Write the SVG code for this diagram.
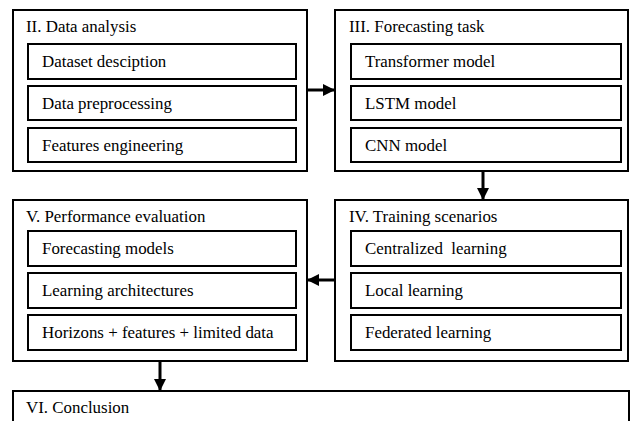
<svg xmlns="http://www.w3.org/2000/svg" width="630" height="421" viewBox="0 0 630 421">
<style>
.outer{fill:#fff;stroke:#000;stroke-width:2}
.inner{fill:#fff;stroke:#000;stroke-width:2}
text{font-family:'Times New Roman','Liberation Serif',serif;font-size:16.9px;fill:#000}
.c{stroke:#000;stroke-width:3;fill:none}
</style>
<defs>
<marker id="ah" markerWidth="4" markerHeight="4" refX="4" refY="2" orient="auto" markerUnits="strokeWidth">
<path d="M0,0 L4,2 L0,4 Z" fill="#000"/>
</marker>
</defs>
<rect width="630" height="421" fill="#fff"/>
<g id="n2">
<rect class="outer" x="13" y="10" width="294" height="161"/>
<text x="26" y="32">II. Data analysis</text>
<rect class="inner" x="28" y="44" width="268" height="35"/>
<text x="42" y="67">Dataset desciption</text>
<rect class="inner" x="28" y="86" width="268" height="34"/>
<text x="42" y="109">Data preprocessing</text>
<rect class="inner" x="28" y="128" width="268" height="34"/>
<text x="42" y="151">Features engineering</text>
</g>
<g id="n3">
<rect class="outer" x="335" y="10" width="293" height="161"/>
<text x="349" y="32">III. Forecasting task</text>
<rect class="inner" x="351" y="44" width="270" height="35"/>
<text x="365" y="67">Transformer model</text>
<rect class="inner" x="351" y="86" width="270" height="34"/>
<text x="365" y="109">LSTM model</text>
<rect class="inner" x="351" y="128" width="270" height="34"/>
<text x="365" y="151">CNN model</text>
</g>
<g id="n4">
<rect class="outer" x="335" y="200" width="293" height="161"/>
<text x="349" y="222">IV. Training scenarios</text>
<rect class="inner" x="351" y="231" width="270" height="35"/>
<text x="365" y="254" xml:space="preserve">Centralized  learning</text>
<rect class="inner" x="351" y="273" width="270" height="35"/>
<text x="365" y="296">Local learning</text>
<rect class="inner" x="351" y="315" width="270" height="35"/>
<text x="365" y="338">Federated learning</text>
</g>
<g id="n5">
<rect class="outer" x="13" y="200" width="294" height="161"/>
<text x="26" y="222">V. Performance evaluation</text>
<rect class="inner" x="28" y="231" width="268" height="35"/>
<text x="42" y="254">Forecasting models</text>
<rect class="inner" x="28" y="273" width="268" height="35"/>
<text x="42" y="296">Learning architectures</text>
<rect class="inner" x="28" y="315" width="268" height="35"/>
<text x="42" y="338">Horizons + features + limited data</text>
</g>
<g id="n6">
<rect class="outer" x="13" y="391" width="616" height="40"/>
<text x="26" y="413">VI. Conclusion</text>
</g>
<g id="connectors">
<line class="c" x1="307" y1="90" x2="335" y2="90" marker-end="url(#ah)"/>
<line class="c" x1="483" y1="171" x2="483" y2="200" marker-end="url(#ah)"/>
<line class="c" x1="335" y1="280" x2="307" y2="280" marker-end="url(#ah)"/>
<line class="c" x1="160" y1="361" x2="160" y2="391" marker-end="url(#ah)"/>
</g>
</svg>
